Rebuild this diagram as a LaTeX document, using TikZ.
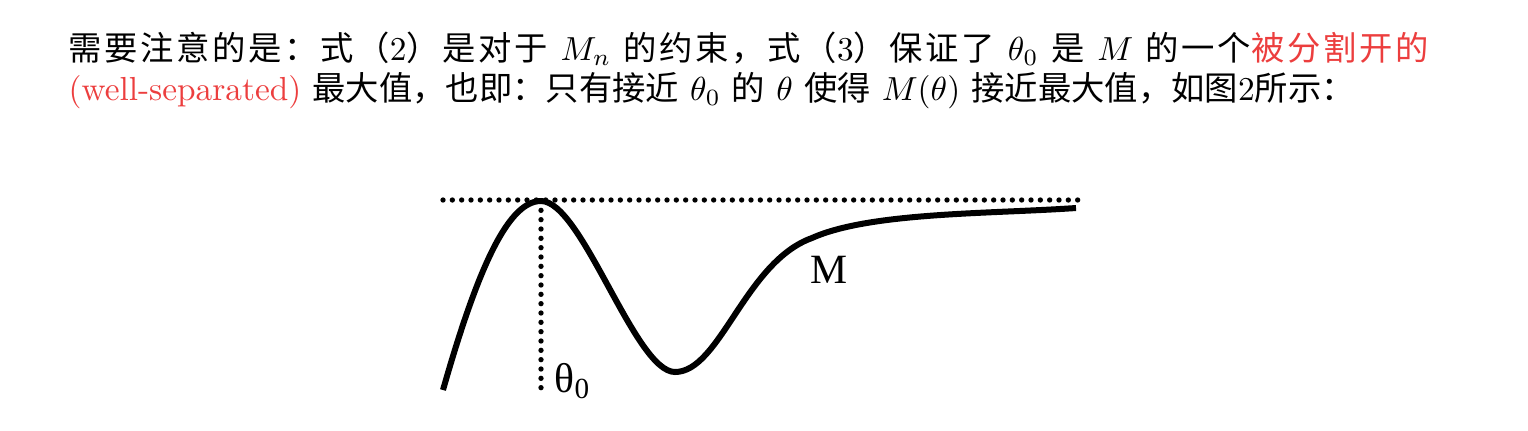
\documentclass[tikz,border=0pt]{standalone}
\usepackage{fontspec}
\usepackage{tikz}
\newfontfamily\cjk{Noto Sans CJK SC}
\newfontfamily\cjkwide[LetterSpace=8]{Noto Sans CJK SC}
\newfontfamily\figfont{Liberation Serif}
\definecolor{sepred}{RGB}{236,62,62}

\begin{document}
\begin{tikzpicture}[x=0.3pt,y=-0.3pt,
  txt/.style={anchor=base west,inner sep=0pt,font=\fontsize{10}{12}\selectfont},
  dotline/.style={line width=1.6pt,line cap=round,dash pattern=on 0pt off 2.8pt},
  curve/.style={line width=1.8pt},
  lbl/.style={inner sep=0pt,font=\figfont\fontsize{12.5}{14}\selectfont}]
\useasboundingbox (0,0) rectangle (1528,430);
\node[txt] (line1) at (68,60) {\makebox[408pt][s]{{\cjkwide 需要注意的是：式（}2{\cjkwide ）是对于} $M_n$ {\cjkwide 的约束，式（}3{\cjkwide ）保证了} $\theta_0$ {\cjkwide 是} $M$ {\cjkwide 的一个}{\color{sepred}\cjkwide 被分割开的}}};
\node[txt] (line2) at (68,100) {{\color{sepred}(well-separated)} {\cjk 最大值，也即：只有接近} $\theta_0$ {\cjk 的} $\theta$ {\cjk 使得} $M(\theta)$ {\cjk 接近最大值，如图}2{\cjk 所示：}};
\coordinate (hl) at (443,200);
\coordinate (hr) at (1080,200);
\coordinate (peak) at (541,201);
\coordinate (foot) at (541,390);
\coordinate (start) at (443,390);
\coordinate (low) at (675,372);
\coordinate (knee) at (812,238);
\coordinate (end) at (1076,208);
\draw[dotline] (hl) -- (hr);
\draw[dotline] (peak) -- (foot);
\draw[curve] (start) .. controls (480,260) and (510,201) .. (peak)
  .. controls (582,201) and (635,372) .. (low)
  .. controls (720,372) and (745,262) .. (knee)
  .. controls (870,212) and (990,214) .. (end);
\node[lbl,anchor=base west] (theta) at (554,392) {θ\textsubscript{0}};
\node[lbl,anchor=base west] (mlabel) at (810,283) {M};
\end{tikzpicture}
\end{document}
